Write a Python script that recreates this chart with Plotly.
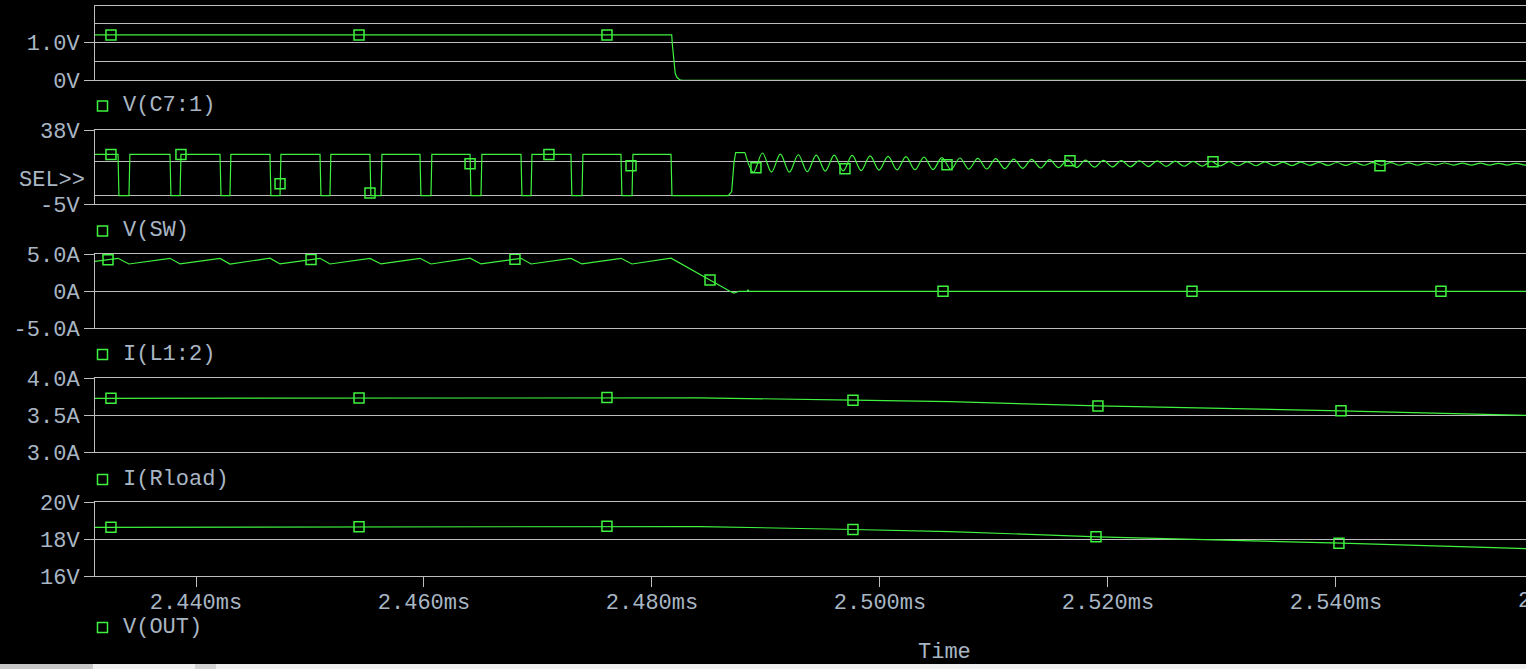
import numpy as np
import plotly.graph_objects as go

# ---------------- data (time in ms) ----------------
t_start, t_end = 2.43114, 2.55667
time_tick_vals = [2.440, 2.460, 2.480, 2.500, 2.520, 2.540]
time_tick_text = ["2.440ms", "2.460ms", "2.480ms", "2.500ms", "2.520ms", "2.540ms"]
time_next_tick = 2.560
time_next_text = "2.560ms"

# V(C7:1)
vc7_t = [2.43114, 2.48173, 2.48178, 2.48187, 2.48193, 2.48204, 2.48219, 2.48245, 2.48270, 2.55667]
vc7_v = [1.20, 1.20, 0.97, 0.67, 0.40, 0.18, 0.08, 0.01, 0.0, 0.0]
vc7_marker_t = [2.43254, 2.45430, 2.47605]

# V(SW) switching edges
sw_fall_t = [2.43316, 2.43772, 2.44211, 2.44649, 2.45088, 2.45526, 2.45965, 2.46404,
             2.46851, 2.47289, 2.47728, 2.48167]
sw_rise_t = [2.43412, 2.43860, 2.44298, 2.44737, 2.45175, 2.45623, 2.46061, 2.46500,
             2.46939, 2.47386, 2.47825]
sw_high_v = 24.0
sw_low_v = 0.0
sw_restart_t = [2.48670, 2.48699, 2.48719, 2.48734, 2.48816]
sw_restart_v = [0.0, 2.4, 19.1, 25.1, 25.0]
# V(SW) ringing extrema (troughs / peaks)
sw_ring_t = [2.48816,
             2.48890, 2.48969, 2.49048, 2.49126, 2.49205, 2.49284, 2.49362, 2.49441, 2.49520, 2.49599,
             2.49677, 2.49756, 2.49835, 2.49913, 2.49992, 2.50071, 2.50150, 2.50228, 2.50307, 2.50386,
             2.50465, 2.50543, 2.50622, 2.50701, 2.50779, 2.50858, 2.50937, 2.51015, 2.51094, 2.51173,
             2.51252, 2.51330, 2.51409, 2.51488, 2.51566, 2.51645, 2.51724, 2.51803, 2.51881, 2.51960,
             2.52039, 2.52117, 2.52196, 2.52275, 2.52354, 2.52432, 2.52511, 2.52590, 2.52668, 2.52747,
             2.52827, 2.52905, 2.52984, 2.53063, 2.53141, 2.53220, 2.53299, 2.53378, 2.53456, 2.53535,
             2.53614, 2.53692, 2.53771, 2.53850, 2.53929, 2.54007, 2.54086, 2.54165, 2.54243, 2.54322,
             2.54401, 2.54480, 2.54558, 2.54637, 2.54716, 2.54794, 2.54873, 2.54952, 2.55031, 2.55109,
             2.55189, 2.55267, 2.55346, 2.55425, 2.55503, 2.55582, 2.55661, 2.55740]
sw_ring_v = [25.0,
             13.6, 24.8, 13.7, 24.2, 13.7, 23.8, 13.9, 23.6, 14.3, 23.6,
             14.4, 23.4, 14.6, 23.1, 14.9, 22.8, 15.0, 22.7, 15.1, 22.4,
             15.2, 22.1, 15.3, 21.9, 15.4, 21.7, 15.5, 21.5, 15.7, 21.3,
             15.9, 21.1, 16.1, 21.0, 16.3, 20.8, 16.4, 20.7, 16.6, 20.5,
             16.7, 20.4, 16.8, 20.3, 16.9, 20.2, 17.0, 20.1, 17.1, 20.0,
             17.2, 19.9, 17.3, 19.8, 17.4, 19.7, 17.4, 19.6, 17.5, 19.5,
             17.5, 19.5, 17.6, 19.4, 17.6, 19.3, 17.6, 19.3, 17.7, 19.2,
             17.7, 19.2, 17.7, 19.1, 17.7, 19.0, 17.8, 19.0, 17.8, 18.9,
             17.8, 18.9, 17.8, 18.8, 17.8, 18.8, 17.8, 18.8]
sw_marker_t = [2.43254, 2.43868, 2.44737, 2.45526, 2.46404, 2.47096, 2.47816,
               2.48912, 2.49693, 2.50588, 2.51667, 2.52921, 2.54386]
sw_marker_v = [24.0, 24.0, 6.9, 1.6, 18.5, 24.0, 17.4,
               16.2, 15.6, 18.0, 20.3, 19.7, 17.4]

# I(L1:2)
il_start_v = 4.04
il_peak_v = [4.46, 4.46, 4.45, 4.47, 4.46, 4.45, 4.46, 4.47, 4.46, 4.45, 4.46, 4.47]
il_trough_v = [3.69, 3.70, 3.68, 3.70, 3.69, 3.70, 3.69, 3.70, 3.69, 3.70, 3.69]
il_tail_t = [2.48684, 2.48719, 2.48763, 2.48833, 2.48842, 2.48851, 2.55667]
il_tail_v = [0.0, -0.25, 0.0, 0.0, 0.17, 0.0, 0.0]
il_marker_t = [2.43228, 2.45009, 2.46798, 2.48509, 2.50553, 2.52737, 2.54921]

# I(Rload)
irl_t = [2.43114, 2.45789, 2.47605, 2.47982, 2.48421, 2.49763, 2.50614, 2.51912, 2.52807, 2.54044, 2.55307, 2.55667]
irl_v = [3.730, 3.735, 3.740, 3.742, 3.736, 3.705, 3.684, 3.627, 3.600, 3.560, 3.512, 3.500]
irl_marker_t = [2.43254, 2.45430, 2.47605, 2.49763, 2.51912, 2.54044]

# V(OUT)
vout_t = [2.43114, 2.45789, 2.47605, 2.47982, 2.48421, 2.49763, 2.50614, 2.51912, 2.52807, 2.54044, 2.55307, 2.55667]
vout_v = [18.65, 18.68, 18.71, 18.72, 18.69, 18.53, 18.42, 18.13, 18.00, 17.79, 17.56, 17.50]
vout_marker_t = [2.43254, 2.45430, 2.47605, 2.49763, 2.51895, 2.54026]

# ---------------- build piecewise traces ----------------
EDGE = 0.00008
sw_t, sw_v = [t_start], [sw_high_v]
for i, tf in enumerate(sw_fall_t):
    sw_t += [tf, tf + EDGE]
    sw_v += [sw_high_v, sw_low_v]
    if i < len(sw_rise_t):
        tr = sw_rise_t[i]
        sw_t += [tr, tr + EDGE]
        sw_v += [sw_low_v, sw_high_v]
sw_t += sw_restart_t
sw_v += sw_restart_v

il_t, il_v = [t_start], [il_start_v]
for i, tf in enumerate(sw_fall_t):
    il_t.append(tf)
    il_v.append(il_peak_v[i])
    if i < len(sw_rise_t):
        il_t.append(sw_rise_t[i])
        il_v.append(il_trough_v[i])
il_t += il_tail_t
il_v += il_tail_v

# ---------------- styling ----------------
W, H = 1526, 669
L = 95
GREEN = "#3ff23f"
GRID = "#bdbdbd"
TXT = "#a9b6c4"
FONT = "Liberation Mono"
FS = 22


def px_x(p):
    return (p - L) / (W - L)


def px_y(p):
    return 1 - p / H


fig = go.Figure()


def line_trace(x, y, row, shape="linear"):
    fig.add_trace(go.Scatter(x=x, y=y, mode="lines", xaxis=f"x{row}", yaxis=f"y{row}",
                             line=dict(color=GREEN, width=1.2, shape=shape),
                             hoverinfo="skip", showlegend=False))


def marker_trace(x, y, row):
    fig.add_trace(go.Scatter(x=x, y=y, mode="markers", xaxis=f"x{row}", yaxis=f"y{row}",
                             marker=dict(symbol="square-open", size=10, color=GREEN,
                                         line=dict(width=1.5, color=GREEN)),
                             hoverinfo="skip", showlegend=False, cliponaxis=False))


# row 1: V(C7:1)
line_trace(vc7_t, vc7_v, 1)
marker_trace(vc7_marker_t, np.interp(vc7_marker_t, vc7_t, vc7_v), 1)
# row 2: V(SW)
line_trace(sw_t, sw_v, 2)
line_trace(sw_ring_t, sw_ring_v, 2, shape="spline")
marker_trace(sw_marker_t, sw_marker_v, 2)
# row 3: I(L1:2)
line_trace(il_t, il_v, 3)
marker_trace(il_marker_t, np.interp(il_marker_t, il_t, il_v), 3)
# row 4: I(Rload)
line_trace(irl_t, irl_v, 4)
marker_trace(irl_marker_t, np.interp(irl_marker_t, irl_t, irl_v), 4)
# row 5: V(OUT)
line_trace(vout_t, vout_v, 5)
marker_trace(vout_marker_t, np.interp(vout_marker_t, vout_t, vout_v), 5)

rows = [
    # top px, bottom px, range, tickvals, ticktext, minor grid
    (6.3, 80.3, [0, 1.955], [0, 1.0], ["0V", "1.0V"], [0.5, 1.5]),
    (130.3, 204.3, [-5, 38], [-5, 38], ["-5V", "38V"], [0, 20]),
    (254.3, 328.3, [-5, 5], [-5, 0, 5], ["-5.0A", "0A", "5.0A"], []),
    (378.3, 452.3, [3.0, 4.0], [3.0, 3.5, 4.0], ["3.0A", "3.5A", "4.0A"], []),
    (502.3, 576.3, [16, 20], [16, 18, 20], ["16V", "18V", "20V"], []),
]

font = dict(family=FONT, size=FS, color=TXT)
layout = dict(
    width=W, height=H, autosize=False,
    margin=dict(l=L, r=0, t=0, b=0, pad=0, autoexpand=False),
    paper_bgcolor="black", plot_bgcolor="black",
    showlegend=False, font=font,
)
for i, (top, bot, rng, tv, tt, minor) in enumerate(rows, start=1):
    xa = dict(domain=[0, 1], range=[t_start, t_end], anchor=f"y{i}",
              showline=True, mirror=True, linecolor=GRID, linewidth=1,
              showgrid=False, zeroline=False, fixedrange=True, automargin=False)
    if i == 5:
        xa.update(tickmode="array", tickvals=time_tick_vals, ticktext=time_tick_text,
                  ticks="outside", ticklen=10, tickcolor=GRID, tickwidth=1,
                  showticklabels=True, tickfont=font, ticklabelstandoff=-5)
    else:
        xa.update(showticklabels=False, ticks="")
    ya = dict(domain=[px_y(bot), px_y(top)], range=rng, anchor=f"x{i}",
              tickmode="array", tickvals=tv, ticktext=tt,
              ticks="outside", ticklen=10, tickcolor=GRID, tickwidth=1,
              showline=True, mirror=False, linecolor=GRID, linewidth=1,
              showgrid=True, gridcolor=GRID, gridwidth=1, zeroline=False,
              tickfont=font, fixedrange=True, automargin=False)
    if minor:
        ya["minor"] = dict(tickmode="array", tickvals=minor, showgrid=True,
                           gridcolor=GRID, gridwidth=1, ticks="")
    key = "" if i == 1 else str(i)
    layout[f"xaxis{key}"] = xa
    layout[f"yaxis{key}"] = ya

fig.update_layout(**layout)
for tr in fig.data:
    if tr.xaxis == "x1":
        tr.xaxis = "x"
        tr.yaxis = "y"

# ---------------- text / legend labels ----------------
labels = [("V(C7:1)", 105.5), ("V(SW)", 230.5), ("I(L1:2)", 354), ("I(Rload)", 479), ("V(OUT)", 627)]
annotations = []
shapes = []
for text, ypx in labels:
    annotations.append(dict(text=text, xref="paper", yref="paper", x=px_x(121), y=px_y(ypx),
                            xanchor="left", yanchor="middle", showarrow=False, font=font))
    shapes.append(dict(type="rect", xref="paper", yref="paper", xsizemode="pixel", ysizemode="pixel",
                       xanchor=px_x(102.5), yanchor=px_y(ypx + 0.5), x0=-5, x1=5, y0=-5, y1=5,
                       line=dict(color=GREEN, width=1.5), fillcolor="rgba(0,0,0,0)"))
annotations.append(dict(text="SEL>>", xref="paper", yref="paper", x=px_x(87), y=px_y(180),
                        xanchor="right", yanchor="middle", showarrow=False, font=font))
annotations.append(dict(text="Time", xref="paper", yref="paper", x=px_x(944), y=px_y(652),
                        xanchor="center", yanchor="middle", showarrow=False, font=font))
annotations.append(dict(text=time_next_text, xref="paper", yref="paper",
                        x=(time_next_tick - t_start) / (t_end - t_start), y=px_y(601),
                        xanchor="center", yanchor="middle", showarrow=False, font=font))
# window scrollbar strip at the bottom
shapes.append(dict(type="rect", xref="paper", yref="paper", x0=px_x(0), x1=px_x(W), y0=0, y1=px_y(664),
                   line=dict(width=0), fillcolor="#f0f0f0", layer="above"))
shapes.append(dict(type="rect", xref="paper", yref="paper", x0=px_x(0), x1=px_x(93), y0=0, y1=px_y(664),
                   line=dict(width=0), fillcolor="#c8c8c8", layer="above"))
shapes.append(dict(type="rect", xref="paper", yref="paper", x0=px_x(195), x1=px_x(216), y0=0, y1=px_y(664),
                   line=dict(width=0), fillcolor="#d4d4d4", layer="above"))
fig.update_layout(annotations=annotations, shapes=shapes)

fig.write_html("out.html", config={"displayModeBar": False},
               post_script="document.body.style.margin='0';document.body.style.overflow='hidden';"
                           "document.body.style.background='black';")
